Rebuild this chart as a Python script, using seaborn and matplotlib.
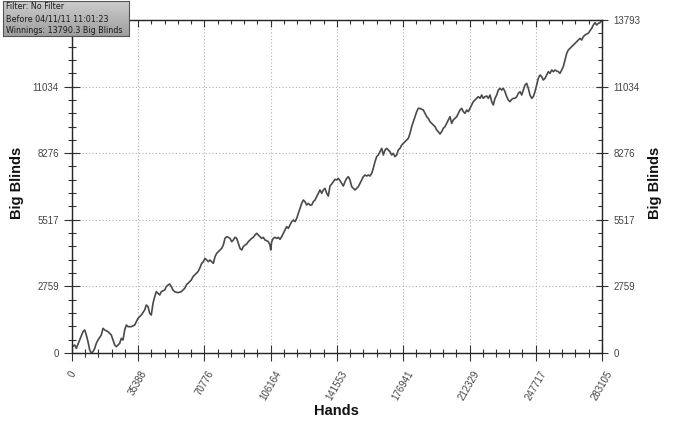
import numpy as np
import pandas as pd
import matplotlib
matplotlib.use("Agg")
import matplotlib.pyplot as plt
import seaborn as sns
from matplotlib.ticker import AutoMinorLocator

# cumulative winnings
hands = [
    0, 1440, 2300, 4110, 5880, 6780, 7640, 8550, 9460, 10310, 11220, 12130, 12980, 13890,
    15650, 16560, 17470, 19230, 20990, 22810, 23660, 24570, 25480, 26330, 27240, 28150,
    29010, 29910, 31680, 33490, 34350, 35260, 36160, 37020, 38830, 39690, 40600, 41500,
    42360, 43270, 44180, 45030, 45940, 46850, 47700, 49520, 50370, 51280, 52190, 53040,
    53950, 54860, 56620, 58380, 59290, 60200, 61050, 61960, 62870, 63730, 64630, 65540,
    66400, 67300, 68210,
    69280, 70140, 71040, 71950, 72810, 73710, 74620, 75480, 76390, 77290, 78150, 79060,
    79960, 80820, 81730, 82630, 83490, 84400, 85310, 86160, 87070, 87980, 88830, 89740,
    90650, 91500, 92410, 93320, 94170, 95080, 95990, 96840, 97750, 98660, 99510, 100420,
    101330, 102190, 103090, 104000, 104860, 105760, 106140, 106670, 107530, 108440,
    109340, 110200, 111110, 112010, 112870, 113780, 114690, 115540, 116450, 117360,
    118210, 119120, 120030, 120880, 121790, 122700, 123550, 124460, 125370, 126220,
    127130, 128040, 128890, 129800, 130710, 131560, 132470, 133380, 134240, 135140,
    136050, 136910,
    137810, 138720, 139580, 140480, 141390, 142250, 143160, 144060, 144920, 145830,
    146730, 147590, 148500, 149410, 150260, 151170, 152080, 152930, 153840, 154750,
    155600, 156510, 157420, 158270, 159180, 160090, 160940, 161850, 162760, 163610,
    164520, 165430, 166280, 167190, 168100, 168960, 169860, 170770, 171630, 172530,
    173440, 174300, 175200, 176110, 176970, 177880, 178780, 179640, 180550, 181450,
    182310, 183220, 184130, 184980, 185890, 186800, 187650, 188560, 189470, 190320,
    191230, 192140, 192990, 193900, 194810, 195660, 196570, 197480, 198330, 199240,
    200150, 201000, 201910, 202820, 203680, 204580, 205490, 206350, 207250, 208160,
    209020,
    209930, 210830, 211690, 212600, 213500, 214360, 215270, 216180, 217030, 217940,
    218850, 219700, 220610, 221520, 222370, 223280, 224190, 225040, 225950, 226860,
    227710, 228620, 229530, 230380, 231290, 232200, 233050, 233960, 234870, 235730,
    236630, 237540, 238400, 239300, 240210, 241070, 241970, 242880, 243740, 244650,
    245550, 246410, 247320, 248220, 249080, 249990, 250900, 251750, 252660, 253570,
    254420, 255330, 256240, 257090, 258000, 258910, 259760, 260670, 261580, 262430,
    263340, 264250, 265100, 266010, 266920, 267770, 268680, 269590, 270450, 271350,
    272260, 273120, 274020, 274930, 275790, 276700, 277600, 278460, 279370, 280270,
    281130, 282040, 283105,
]
big_blinds = [
    262, 331, 193, 538, 884, 953, 746, 469, 124, 0, 55, 193, 400, 538,
    746, 1022, 953, 884, 746, 331, 262, 331, 400, 607, 538, 953,
    1160, 1091, 1091, 1160, 1298, 1436, 1505, 1574, 1781, 1988, 1919, 1643,
    1574, 2057, 2333, 2540, 2471, 2402, 2540, 2609, 2747, 2816, 2858, 2747,
    2609, 2540, 2499, 2540, 2609, 2678, 2816, 2885, 2954, 3024, 3162, 3231,
    3300, 3369, 3507,
    3714, 3783, 3921, 3852, 3783, 3852, 3783, 3714, 3990, 4128, 4197, 4266,
    4335, 4473, 4749, 4818, 4791, 4749, 4611, 4680, 4791, 4749, 4542, 4335,
    4266, 4404, 4473, 4515, 4611, 4680, 4749, 4791, 4888, 4957, 4888, 4818,
    4749, 4791, 4680, 4653, 4611, 4473, 4266, 4611, 4749, 4791,
    4749, 4791, 4708, 4818, 4957, 5095, 5233, 5164, 5302, 5440,
    5509, 5440, 5578, 5785, 5992, 6199, 6337, 6268, 6130, 6199,
    6130, 6130, 6268, 6337, 6475, 6613, 6751, 6613, 6751, 6820,
    6613, 6500,
    6917, 7000, 7096, 7193, 7166, 7235, 7138, 7027, 6917, 7096,
    7235, 7304, 7166, 6890, 6820, 6751, 6820, 6890, 7027, 7166,
    7304, 7373, 7331, 7373, 7331, 7442, 7649, 7925, 8132, 8201,
    8339, 8477, 8201, 8408, 8477, 8408, 8339, 8201, 8270, 8132,
    8201, 8408, 8477, 8615, 8684, 8753, 8822, 8891, 9098, 9375,
    9582, 9789, 9996, 10134, 10134, 10092, 10065, 9927, 9789, 9720,
    9582, 9513, 9444, 9375, 9237, 9168, 9071, 9168, 9306, 9375,
    9513, 9651, 9789, 9513, 9651, 9720, 9789, 9927, 10065, 10134,
    9996,
    9927, 10065, 9996, 10134, 10272, 10410, 10479, 10548, 10617, 10548,
    10686, 10548, 10617, 10645, 10548, 10686, 10410, 10272, 10548, 10686,
    10893, 10962, 10893, 10962, 10824, 10617, 10479, 10410, 10507, 10548,
    10548, 10617, 10755, 10824, 10686, 10893, 11101, 11170, 10962, 10686,
    10548, 10617, 10824, 11101, 11377, 11515, 11446, 11308, 11377, 11515,
    11653, 11584, 11722, 11653, 11722, 11680, 11653, 11584, 11722, 11860,
    12136, 12412, 12550, 12619, 12688, 12757, 12826, 12895, 12964, 13033,
    12964, 13102, 13171, 13213, 13240, 13350, 13447, 13585, 13682, 13585,
    13654, 13682, 13790,
]

x_ticks = [0, 35388, 70776, 106164, 141553, 176941, 212329, 247717, 283105]
y_ticks = [0, 2759, 5517, 8276, 11034, 13793]
info_lines = ["Filter: No Filter", "Before 04/11/11 11:01:23", "Winnings: 13790.3 Big Blinds"]

sns.set_style("white")
plt.rcParams['font.family'] = ['Liberation Sans', 'DejaVu Sans']

df = pd.DataFrame({'Hands': hands, 'Big Blinds': big_blinds})

W, H = 695, 424
fig = plt.figure(figsize=(W / 100, H / 100), dpi=100)
ax = fig.add_axes([72 / W, 1 - 353 / H, 530 / W, 333 / H])

sns.lineplot(data=df, x='Hands', y='Big Blinds', ax=ax, color='#4a4a4a', linewidth=1.2)

ax.set_xlim(0, x_ticks[-1])
ax.set_ylim(0, y_ticks[-1])
ax.set_xticks(x_ticks)
ax.set_yticks(y_ticks)
ax.xaxis.set_minor_locator(AutoMinorLocator(5))
ax.yaxis.set_minor_locator(AutoMinorLocator(5))
ax.set_xticklabels([str(v) for v in x_ticks], rotation=60, fontsize=7, color='#444444')
# the top label on the left is covered by the info box in the original
ax.set_yticklabels([str(v) for v in y_ticks[:-1]] + [''], fontsize=7, color='#444444')
ax.tick_params(which='major', direction='inout', length=11, width=0.8, color='#333333')
ax.tick_params(which='minor', direction='inout', length=6, width=0.8, color='#333333')
ax.tick_params(axis='y', which='major', pad=4)
ax.tick_params(axis='x', which='major', pad=6)
ax.grid(which='major', linestyle=(0, (1, 2)), color='#b0b0b0', linewidth=0.8)
ax.set_xlabel('')
ax.set_ylabel('')
for sp in ax.spines.values():
    sp.set_color('#333333')
    sp.set_linewidth(0.9)

# right axis with the same scale
ax_r = ax.twinx()
ax_r.set_ylim(0, y_ticks[-1])
ax_r.set_yticks(y_ticks)
ax_r.yaxis.set_minor_locator(AutoMinorLocator(5))
ax_r.set_yticklabels([str(v) for v in y_ticks], fontsize=7, color='#444444')
ax_r.tick_params(which='major', direction='inout', length=9, width=0.8, color='#333333', pad=4)
ax_r.tick_params(which='minor', direction='in', length=3, width=0.8, color='#333333')

# top ticks, no labels
ax_t = ax.twiny()
ax_t.set_xlim(0, x_ticks[-1])
ax_t.set_xticks(x_ticks)
ax_t.xaxis.set_minor_locator(AutoMinorLocator(5))
ax_t.set_xticklabels([])
ax_t.tick_params(which='major', direction='in', length=5, width=0.8, color='#333333')
ax_t.tick_params(which='minor', direction='in', length=3, width=0.8, color='#333333')

fig.text(17 / W, 1 - 183 / H, 'Big Blinds', rotation=90, ha='center', va='center',
         fontsize=10.5, fontweight='bold', color='#111111')
fig.text(655 / W, 1 - 183 / H, 'Big Blinds', rotation=90, ha='center', va='center',
         fontsize=10.5, fontweight='bold', color='#111111')
fig.text(336 / W, 1 - 411 / H, 'Hands', ha='center', va='center',
         fontsize=10.5, fontweight='bold', color='#111111')

# info box in the top left corner
box = fig.add_axes([3 / W, 1 - 36 / H, 126 / W, 35 / H])
grad = np.linspace(0.80, 0.62, 50).reshape(-1, 1)
box.imshow(grad, cmap='gray', vmin=0, vmax=1, aspect='auto', extent=[0, 1, 0, 1])
box.set_xlim(0, 1)
box.set_ylim(0, 1)
box.set_xticks([])
box.set_yticks([])
for sp in box.spines.values():
    sp.set_visible(True)
    sp.set_color('#555555')
    sp.set_linewidth(0.8)
for i, line in enumerate(info_lines):
    box.text(0.02, 0.83 - i * 0.33, line, ha='left', va='center', fontsize=5.8,
             family='DejaVu Sans', color='#1a1a1a')

fig.savefig('out.png', dpi=100)
